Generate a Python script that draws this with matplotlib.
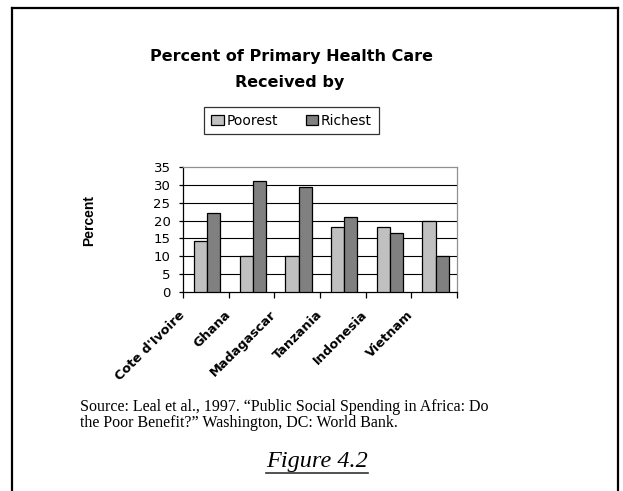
import numpy as np
import matplotlib
matplotlib.use("Agg")
import matplotlib.pyplot as plt
from matplotlib.lines import Line2D

countries = ["Cote d'Ivoire", "Ghana", "Madagascar", "Tanzania", "Indonesia", "Vietnam"]
poorest = [14.4, 10, 10, 18.2, 18.2, 20]
richest = [22.2, 31, 29.3, 21.1, 16.4, 10]
yticks = [0, 5, 10, 15, 20, 25, 30, 35]

plt.rcParams['font.family'] = ['DejaVu Sans']

W, H = 623, 491
fig = plt.figure(figsize=(W / 100, H / 100), dpi=100)

def fx(px):
    return px / W

def fy(py):
    return 1 - py / H

# outer frame (no bottom edge visible)
for xs, ys in [([12, 12], [8, 491]), ([618, 618], [8, 491]), ([12, 618], [8, 8])]:
    fig.add_artist(Line2D([fx(v) for v in xs], [fy(v) for v in ys], color='black', lw=1.6))

# plot area
ax = fig.add_axes([fx(183), fy(292), fx(457) - fx(183), fy(167) - fy(292)])
x = np.arange(len(countries))
bw = 0.29
ax.bar(x + 0.03 - bw / 2, poorest, bw, color='#c0c0c0', edgecolor='black', lw=0.9, label='Poorest', zorder=3)
ax.bar(x + 0.03 + bw / 2, richest, bw, color='#808080', edgecolor='black', lw=0.9, label='Richest', zorder=3)

ax.set_xlim(-0.5, len(countries) - 0.5)
ax.set_ylim(0, 35)
ax.set_yticks(yticks)
ax.set_yticklabels([str(v) for v in yticks], fontsize=9.5)
for v in yticks[1:-1]:
    ax.axhline(v, color='black', lw=0.8, zorder=1)

# category labels sit at the left boundary of each group (like the Excel original)
ax.set_xticks(np.arange(len(countries) + 1) - 0.5)
ax.set_xticklabels(countries + [''], rotation=45, ha='right', va='center',
                   rotation_mode='anchor', fontsize=9.3, fontweight='bold')

ax.tick_params(axis='x', direction='out', length=4, width=0.9, pad=11)
ax.tick_params(axis='y', direction='out', length=3, width=0.9, pad=6)
ax.spines['left'].set_color('black')
ax.spines['bottom'].set_color('black')
ax.spines['top'].set_color('#909090')
ax.spines['right'].set_color('#909090')
for s in ax.spines.values():
    s.set_linewidth(0.9)

# titles
fig.text(fx(291), fy(56), "Percent of Primary Health Care", ha='center', va='center',
         fontsize=11.5, fontweight='bold')
fig.text(fx(290), fy(82), "Received by", ha='center', va='center',
         fontsize=11.5, fontweight='bold')
fig.text(fx(89), fy(221), "Percent", ha='center', va='center', rotation=90,
         fontsize=10, fontweight='bold', family='Liberation Sans')

leg = ax.legend(loc='center', bbox_to_anchor=(fx(291.5), fy(120.5)),
                bbox_transform=fig.transFigure, ncol=2, frameon=True,
                fancybox=False, edgecolor='black', fontsize=10,
                handlelength=0.9, handleheight=0.7, handletextpad=0.2,
                columnspacing=2.0, borderpad=0.5, borderaxespad=0)
leg.get_frame().set_linewidth(0.9)

# source
src1 = "Source: Leal et al., 1997. \u201cPublic Social Spending in Africa: Do"
src2 = "the Poor Benefit?\u201d Washington, DC: World Bank."
fig.text(fx(80), fy(407), src1, ha='left', va='center', fontsize=11.5, family='Liberation Serif')
fig.text(fx(80), fy(423), src2, ha='left', va='center', fontsize=11.5, family='Liberation Serif')

fig_lbl = fig.text(fx(317), fy(462), "Figure 4.2", ha='center', va='center',
                   fontsize=17.5, style='italic', family='Liberation Serif')
fig.canvas.draw()
bb = fig_lbl.get_window_extent().transformed(fig.transFigure.inverted())
fig.add_artist(Line2D([bb.x0, bb.x1], [fy(473), fy(473)], color='#333333', lw=1.2))

fig.savefig("out.png", dpi=100)
